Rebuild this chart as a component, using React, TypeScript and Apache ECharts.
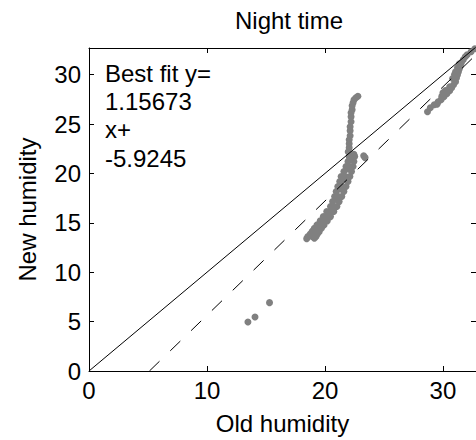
import React, { useEffect, useRef } from "react";
import * as echarts from "echarts";

const titleText = "Night time";
const xName = "Old humidity";
const yName = "New humidity";
const fitSlope = 1.15673;
const fitIntercept = -5.9245;
const fitLabel = ["Best fit y=", "1.15673", "x+", "-5.9245"];
const xMin = 0;
const xMax = 32.8;
const yMin = 0;
const yMax = 32.7;
const tickStep = { x: 10, y: 5 };

// scatter points (old humidity, new humidity)
const oldHumidity = [
  // low outliers
  13.47, 14.07, 15.3,
  // main band: left, middle, right tracks
  22.05, 22.28, 22.52,
  21.78, 22.08, 22.38,
  21.37, 21.74, 22.11,
  21.09, 21.43, 21.78,
  20.82, 21.12, 21.42,
  20.47, 20.74, 21.01,
  19.86, 20.16, 20.47,
  19.32, 19.62, 19.92,
  18.91, 19.21, 19.51,
  18.55, 18.9, 19.24,
  // main band: in-between rows
  22.2, 22.45, 21.95, 22.45, 21.6, 22.25, 21.25, 21.95, 20.95, 21.6,
  20.65, 21.2, 20.15, 20.75, 19.6, 20.2, 19.1, 19.7, 18.75, 19.35,
  18.45, 19.1,
  // main band: extra fill
  22.1, 21.9, 21.55, 21.25, 20.98, 20.6, 20.3, 19.9, 19.4, 19.05,
  // vertical stub
  21.97, 22.05, 22.05, 22.05, 22.13, 22.13, 22.13, 22.21, 22.21, 22.21,
  22.3, 22.3, 22.38, 22.46, 22.62, 22.79,
  // isolated
  23.28, 23.4,
  // upper right cluster
  28.69, 28.93, 29.26, 29.59, 29.84, 30.08, 30.33, 30.57, 30.74, 30.9,
  31.07, 31.15, 31.23, 31.31, 31.39, 31.48, 31.56, 31.72, 31.89, 32.05,
  32.38, 32.7, 30.82, 30.98, 31.07, 31.23, 31.39, 30.33, 30.57, 30.0,
  29.9, 30.2, 29.5,
];
const newHumidity = [
  4.96, 5.47, 6.92,
  21.71, 21.71, 21.71,
  20.7, 20.7, 20.7,
  19.69, 19.69, 19.69,
  18.67, 18.67, 18.67,
  17.66, 17.66, 17.66,
  16.65, 16.65, 16.65,
  15.63, 15.63, 15.63,
  14.79, 14.79, 14.79,
  14.11, 14.11, 14.11,
  13.61, 13.61, 13.61,
  21.95, 21.95, 21.2, 21.2, 20.2, 20.2, 19.18, 19.18, 18.17, 18.17,
  17.15, 17.15, 16.14, 16.14, 15.2, 15.2, 14.45, 14.45, 13.86, 13.86,
  13.4, 13.45,
  21.45, 20.45, 19.43, 18.42, 17.4, 16.4, 15.9, 15.4, 14.6, 14.3,
  22.19, 22.59, 23.0, 23.4, 23.81, 24.32, 24.72, 25.23, 25.73, 26.14,
  26.44, 26.85, 27.15, 27.46, 27.66, 27.81,
  21.78, 21.6,
  26.24, 26.65, 26.95, 27.25, 27.46, 27.76, 28.06, 28.37, 28.67, 28.98,
  29.28, 29.69, 29.99, 30.29, 30.6, 30.9, 31.21, 31.51, 31.81, 32.02,
  32.32, 32.62, 29.62, 30.02, 30.29, 30.7, 31.1, 28.37, 28.77, 28.17,
  27.8, 28.4, 27.0,
];

const FONT = "Liberation Sans, Arial, Helvetica, sans-serif";
const FS = 24;

export default function App() {
  const ref = useRef<HTMLDivElement>(null);
  useEffect(() => {
    if (!ref.current) return;
    const chart = echarts.init(ref.current, undefined, { renderer: "svg" });
    const points = oldHumidity.map((x, i) => [x, newHumidity[i]]);
    const identity = [
      [xMin, xMin],
      [xMax, xMax],
    ];
    const fit = [
      [-fitIntercept / fitSlope, 0],
      [xMax, fitSlope * xMax + fitIntercept],
    ];
    const axisCommon = {
      type: "value" as const,
      axisLine: { show: true, onZero: false, lineStyle: { color: "#000", width: 1 } },
      axisTick: { show: true, inside: true, length: 5, lineStyle: { color: "#000" } },
      splitLine: { show: false },
    };
    const labelStyle = {
      color: "#000",
      fontSize: FS,
      fontFamily: FONT,
      showMaxLabel: false,
    };
    chart.setOption({
      animation: false,
      backgroundColor: "#fff",
      grid: { left: 89, top: 48, width: 400, height: 323, containLabel: false },
      xAxis: [
        {
          ...axisCommon,
          position: "bottom",
          min: xMin,
          max: xMax,
          interval: tickStep.x,
          axisLabel: { ...labelStyle, margin: 7 },
          name: xName,
          nameLocation: "middle",
          nameGap: 40,
          nameTextStyle: { color: "#000", fontSize: FS, fontFamily: FONT },
        },
        {
          ...axisCommon,
          position: "top",
          min: xMin,
          max: xMax,
          interval: tickStep.x,
          axisLabel: { show: false },
        },
      ],
      yAxis: [
        {
          ...axisCommon,
          position: "left",
          min: yMin,
          max: yMax,
          interval: tickStep.y,
          axisLabel: { ...labelStyle, margin: 8 },
          name: yName,
          nameLocation: "middle",
          nameGap: 50,
          nameTextStyle: { color: "#000", fontSize: FS, fontFamily: FONT },
        },
        {
          ...axisCommon,
          position: "right",
          min: yMin,
          max: yMax,
          interval: tickStep.y,
          axisLabel: { show: false },
        },
      ],
      series: [
        {
          type: "scatter",
          data: points,
          symbol: "circle",
          symbolSize: 7,
          itemStyle: { color: "#808080", opacity: 1 },
          z: 2,
        },
        {
          type: "line",
          data: identity,
          symbol: "none",
          clip: true,
          lineStyle: { color: "#000", width: 1 },
          z: 3,
        },
        {
          type: "line",
          data: fit,
          symbol: "none",
          clip: true,
          lineStyle: { color: "#000", width: 1, type: [14, 15] },
          z: 3,
        },
      ],
      graphic: [
        {
          type: "text",
          x: 289,
          y: 20,
          style: {
            text: titleText,
            fill: "#000",
            font: `${FS}px ${FONT}`,
            textAlign: "center",
            textVerticalAlign: "middle",
          },
        },
        {
          type: "text",
          x: 105,
          y: 59,
          z: 10,
          style: {
            text: fitLabel.join("\n"),
            fill: "#000",
            font: `${FS}px ${FONT}`,
            lineHeight: 28.3,
            textAlign: "left",
            textVerticalAlign: "top",
          },
        },
      ],
    });
    return () => chart.dispose();
  }, []);
  return (
    <div
      ref={ref}
      style={{ position: "fixed", left: 0, top: 0, width: 476, height: 440 }}
    />
  );
}
